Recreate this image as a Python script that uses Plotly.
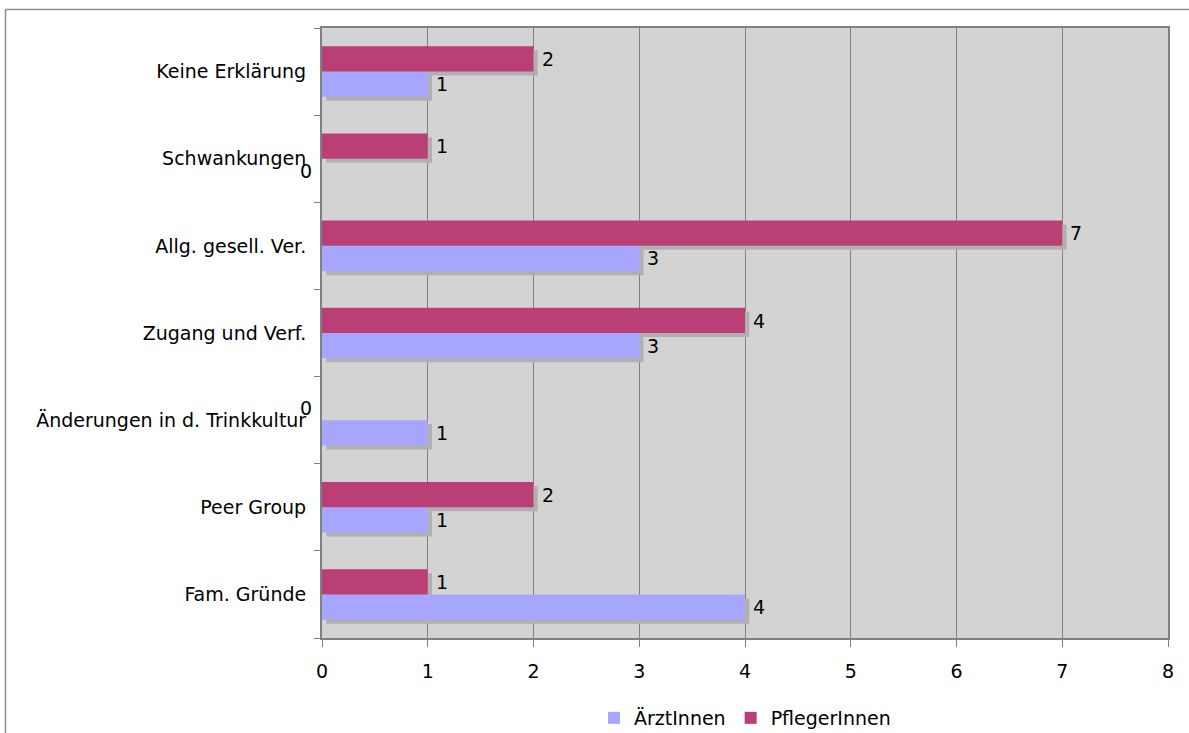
import plotly.graph_objects as go

categories = ["Fam. Gründe", "Peer Group", "Änderungen in d. Trinkkultur",
              "Zugang und Verf.", "Allg. gesell. Ver.", "Schwankungen", "Keine Erklärung"]
aerzt = [4, 1, 1, 3, 3, 0, 1]
pfleger = [1, 2, 0, 4, 7, 1, 2]
x_ticks = [0, 1, 2, 3, 4, 5, 6, 7, 8]

C_AERZT = "#a6a6ff"
C_PFLEGER = "#bb3f77"
C_SHADOW = "#b0b0b0"
FONT = "DejaVu Sans, Verdana, sans-serif"
FS = 19

W = 0.29
fig = go.Figure()
# shadows
for vals, off in [(pfleger, 0.0), (aerzt, -W)]:
    fig.add_trace(go.Bar(y=categories, x=vals, base=0.04, orientation="h",
                         offset=off - 0.046, width=W, marker=dict(color=C_SHADOW, line=dict(width=0)),
                         showlegend=False, hoverinfo="skip"))
fig.add_trace(go.Bar(y=categories, x=aerzt, orientation="h", name="ÄrztInnen",
                     offset=-W, width=W, marker=dict(color=C_AERZT, line=dict(width=0))))
fig.add_trace(go.Bar(y=categories, x=pfleger, orientation="h", name="PflegerInnen",
                     offset=0.0, width=W, marker=dict(color=C_PFLEGER, line=dict(width=0))))

annotations = []
for cat, a, p in zip(categories, aerzt, pfleger):
    for v, ys in [(a, -12.5), (p, 12.5)]:
        if v == 0:
            annotations.append(dict(x=0, y=cat, xref="x", yref="y", text=str(v), showarrow=False,
                                    xanchor="right", xshift=-8, yshift=ys, font=dict(size=FS, color="#000", family=FONT)))
        else:
            annotations.append(dict(x=v, y=cat, xref="x", yref="y", text=str(v), showarrow=False,
                                    xanchor="left", xshift=6, yshift=ys, font=dict(size=FS, color="#000", family=FONT)))

L, R, T, B = 322, 21, 28, 95
PW, PH = 1189 - L - R, 733 - T - B
def px(xp):
    return (xp - L) / PW
def py(yp):
    return 1 - (yp - T) / PH

shapes = [
    dict(type="line", xref="paper", yref="paper", x0=px(5.5), x1=px(1200), y0=py(9.5), y1=py(9.5),
         line=dict(color="#8c8c8c", width=1.5)),
    dict(type="line", xref="paper", yref="paper", x0=px(5.5), x1=px(5.5), y0=py(9.5), y1=py(740),
         line=dict(color="#8c8c8c", width=1.5)),
]

fig.update_layout(
    width=1189, height=733,
    margin=dict(l=L, r=R, t=T, b=B, autoexpand=False),
    paper_bgcolor="white", plot_bgcolor="#d3d3d3",
    barmode="overlay",
    font=dict(family=FONT, size=FS, color="#000"),
    annotations=annotations, shapes=shapes,
    legend=dict(orientation="h", x=0.5, xanchor="center", y=py(718), yanchor="middle",
                font=dict(size=FS), traceorder="normal", itemwidth=30),
    xaxis=dict(range=[0, 8], tickvals=x_ticks, ticktext=[str(t) for t in x_ticks],
               showgrid=True, gridcolor="#808080", gridwidth=1,
               ticks="outside", ticklen=7, tickcolor="#808080",
               showline=True, linecolor="#808080", linewidth=2, mirror=True,
               zeroline=False, tickfont=dict(size=FS), ticklabelstandoff=8, automargin=False),
    yaxis=dict(type="category", categoryorder="array", categoryarray=categories,
               tickson="boundaries", ticks="outside", ticklen=6, tickcolor="#808080",
               showline=True, linecolor="#808080", linewidth=2, mirror=True,
               showgrid=False, ticklabelstandoff=10, tickfont=dict(size=FS), automargin=False),
)
fig.write_html("out.html")
